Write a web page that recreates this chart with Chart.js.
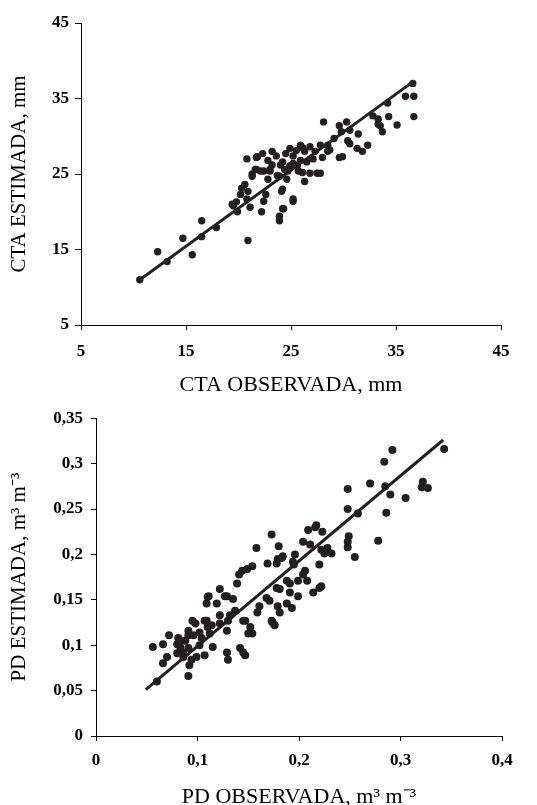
<!DOCTYPE html>
<html>
<head>
<meta charset="utf-8">
<script src="https://cdn.jsdelivr.net/npm/chart.js@4.4.1/dist/chart.umd.min.js"></script>
<style>
  html, body { margin: 0; padding: 0; background: #fff; overflow: hidden; }
  body { width: 537px; height: 805px; position: relative; }
  canvas { position: absolute; left: 0; }
  #top { top: 0; }
  #bottom { top: 400px; }
</style>
</head>
<body>
<canvas id="top" width="537" height="400"></canvas>
<canvas id="bottom" width="537" height="420"></canvas>
<script>
// CTA chart (mm)
const ctaObs = [10.6,12.3,13.2,14.7,15.6,16.5,16.5,17.9,20.9,19.4,
  19.9,19.8,20.2,20.6,20.9,21.1,21.3,22.1,22.2,22.4,
  22.6,22.8,23.0,23.7,24.1,24.3,23.9,25.2,24.6,24.7,
  26.3,25.7,26.8,27.5,28.1,29.6,30.3,29.8,30.6,31.4,
  30.4,30.6,31.3,32.3,31.8,29.6,29.9,33.3,33.5,33.7,
  27.8,28.5,26.8,25.9,26.3,27.3,25.2,25.9,26.5,27.8,
  26.1,24.9,24.2,23.6,21.8,22.8,21.6,22.4,23.0,23.9,
  23.2,24.2,25.2,24.2,23.9,24.4,25.6,24.9,28.5,29.1,
  36.6,35.9,36.7,36.7,34.3,35.1,33.3,34.2,32.8,21.7,
  21.7,19.5,20.8,21.3,20.3,23.2,24.5,25.5,26.1,27.1,
  28.0,28.7,25.2,24.0,22.3,20.8]
const ctaEst = [11.0,14.7,13.4,16.5,14.3,18.8,16.7,17.9,16.2,21.0,
  20.0,21.3,22.3,23.6,22.7,20.6,25.0,25.4,20.0,21.4,
  22.3,24.3,25.4,24.8,22.7,20.4,18.8,21.4,24.3,25.4,
  24.0,25.4,25.1,25.1,31.9,31.4,31.9,30.6,30.8,30.3,
  29.4,29.0,28.4,28.8,28.0,27.2,27.3,32.3,31.4,30.6,
  28.8,28.0,28.6,28.8,28.0,28.0,27.4,26.8,26.6,25.1,
  25.2,26.1,26.6,27.4,27.3,26.8,25.6,25.4,25.6,24.7,
  26.2,23.0,21.7,20.4,19.4,25.6,26.1,28.4,28.8,29.7,
  37.0,35.3,35.3,32.6,32.6,31.5,31.6,34.4,32.7,27.2,
  25.6,20.8,21.7,24.7,23.1,28.0,27.7,28.1,28.5,27.0,
  27.2,28.2,26.4,26.2,27.7,27.0]
const ctaLineX = [10.6, 36.6]
const ctaLineY = [11.0, 37.2]
const ctaTicks = [5, 15, 25, 35, 45]

// PD chart (m3 m-3)
const pdObs = [0.060,0.056,0.066,0.066,0.070,0.072,0.081,0.083,0.080,0.086,
  0.091,0.091,0.096,0.091,0.092,0.086,0.098,0.099,0.107,0.102,
  0.109,0.110,0.115,0.109,0.110,0.119,0.122,0.122,0.127,0.135,
  0.130,0.129,0.129,0.130,0.137,0.139,0.141,0.145,0.147,0.145,
  0.152,0.154,0.149,0.154,0.158,0.161,0.159,0.168,0.169,0.173,
  0.173,0.176,0.180,0.179,0.178,0.181,0.181,0.184,0.191,0.193,
  0.191,0.196,0.199,0.199,0.206,0.208,0.209,0.204,0.216,0.211,
  0.214,0.220,0.220,0.223,0.225,0.232,0.228,0.343,0.292,0.284,
  0.248,0.270,0.285,0.290,0.305,0.322,0.321,0.327,0.248,0.258,
  0.286,0.249,0.248,0.248,0.255,0.278,0.217,0.222,0.194,0.204,
  0.188,0.222,0.183,0.178,0.195,0.144,0.111,0.129,0.132,0.179,
  0.188,0.171,0.147,0.095,0.107,0.114,0.122,0.150,0.174,0.083,
  0.088,0.104,0.112,0.091,0.102,0.080,0.094,0.142]
const pdEst = [0.060,0.098,0.101,0.080,0.087,0.111,0.108,0.098,0.101,0.092,
  0.116,0.111,0.111,0.066,0.078,0.087,0.124,0.087,0.089,0.114,
  0.127,0.120,0.098,0.146,0.153,0.146,0.162,0.133,0.154,0.151,
  0.127,0.116,0.092,0.084,0.138,0.168,0.178,0.092,0.089,0.127,
  0.120,0.113,0.184,0.187,0.207,0.143,0.136,0.152,0.190,0.222,
  0.127,0.122,0.209,0.195,0.163,0.162,0.136,0.198,0.168,0.141,
  0.158,0.200,0.171,0.154,0.182,0.171,0.227,0.214,0.230,0.211,
  0.158,0.163,0.189,0.225,0.201,0.201,0.207,0.316,0.315,0.302,
  0.272,0.278,0.275,0.266,0.262,0.280,0.274,0.273,0.250,0.245,
  0.246,0.220,0.214,0.208,0.197,0.215,0.232,0.205,0.192,0.178,
  0.171,0.165,0.196,0.190,0.189,0.182,0.154,0.154,0.133,0.143,
  0.146,0.149,0.127,0.127,0.127,0.122,0.124,0.113,0.125,0.105,
  0.105,0.108,0.113,0.097,0.100,0.091,0.084,0.097]
const pdLineX = [0.049, 0.342]
const pdLineY = [0.051, 0.326]

const ink = '#231f20'
const serif = "'Liberation Serif', 'Times New Roman', serif"

function pairs(xs, ys) {
  return xs.map((x, i) => ({x: x, y: ys[i]}))
}

function axis(o) {
  return {
    type: 'linear',
    position: o.position,
    min: o.min,
    max: o.max,
    grid: {drawOnChartArea: false, drawTicks: true, tickLength: o.tickLength, color: '#000', lineWidth: 1},
    border: {display: true, color: '#000', width: 1},
    ticks: {
      stepSize: o.step,
      padding: o.padding,
      color: '#000',
      font: {family: serif, size: 17, weight: 'bold'},
      callback: o.format
    },
    title: {
      display: true,
      text: o.title,
      color: '#000',
      font: {family: serif, size: o.titleSize},
      padding: o.titlePadding
    },
    afterFit: o.fit
  }
}

function makeChart(id, o) {
  return new Chart(document.getElementById(id), {
    type: 'scatter',
    data: {
      datasets: [{
        data: o.points,
        backgroundColor: ink,
        borderColor: ink,
        pointRadius: o.radius,
        pointHoverRadius: o.radius,
        borderWidth: 0
      }, {
        data: o.line,
        showLine: true,
        borderColor: ink,
        borderWidth: 3,
        pointRadius: 0
      }]
    },
    options: {
      responsive: false,
      animation: false,
      devicePixelRatio: 1,
      layout: {padding: o.padding},
      plugins: {legend: {display: false}, tooltip: {enabled: false}},
      scales: {x: o.x, y: o.y}
    }
  })
}

const fmtCta = v => ctaTicks.includes(v) ? String(v) : ''
const fmtPd = v => String(+v.toFixed(2)).replace('.', ',')

makeChart('top', {
  points: pairs(ctaObs, ctaEst),
  line: pairs(ctaLineX, ctaLineY),
  radius: 3.7,
  padding: {top: 23, right: 36, left: 0, bottom: 0},
  x: axis({position: 'bottom', min: 5, max: 45, step: 10, tickLength: 5, padding: 11,
    format: fmtCta, title: 'CTA OBSERVADA, mm', titleSize: 22, titlePadding: {top: 0, bottom: 2},
    fit: s => { s.height = 75 }}),
  y: axis({position: 'left', min: 5, max: 45, step: 10, tickLength: 6, padding: 6,
    format: fmtCta, title: 'CTA ESTIMADA, mm', titleSize: 21, titlePadding: {top: 7, bottom: 0},
    fit: s => { s.width = 81 }})
})

makeChart('bottom', {
  points: pairs(pdObs, pdEst),
  line: pairs(pdLineX, pdLineY),
  radius: 4,
  padding: {top: 15, right: 35, left: 0, bottom: 0},
  x: axis({position: 'bottom', min: 0, max: 0.4, step: 0.1, tickLength: 5, padding: 9,
    format: fmtPd, title: 'PD OBSERVADA, m³ m⁻³', titleSize: 22, titlePadding: {top: 0, bottom: 10},
    fit: s => { s.height = 84 }}),
  y: axis({position: 'left', min: 0, max: 0.35, step: 0.05, tickLength: 5, padding: 8,
    format: fmtPd, title: 'PD ESTIMADA, m³ m⁻³', titleSize: 21, titlePadding: {top: 7, bottom: 0},
    fit: s => { s.width = 96 }})
})
</script>
</body>
</html>
